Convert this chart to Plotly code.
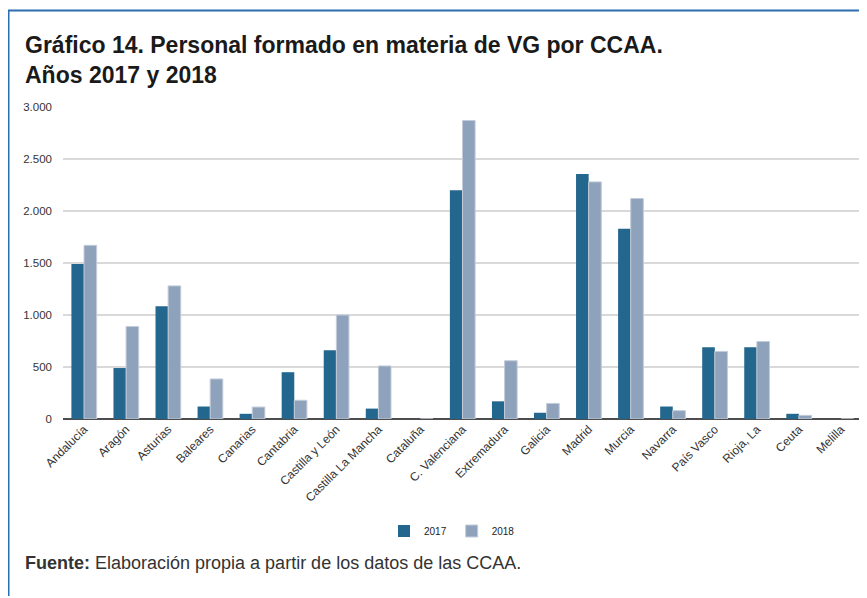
import plotly.graph_objects as go

categories = ["Andalucía", "Aragón", "Asturias", "Baleares", "Canarias", "Cantabria",
              "Castilla y León", "Castilla La Mancha", "Cataluña", "C. Valenciana",
              "Extremadura", "Galicia", "Madrid", "Murcia", "Navarra", "País Vasco",
              "Rioja, La", "Ceuta", "Melilla"]
values_2017 = [1490, 490, 1085, 120, 50, 450, 660, 100, 0, 2200, 170, 60, 2355, 1830, 120, 690, 690, 50, 0]
values_2018 = [1670, 890, 1280, 385, 115, 180, 1000, 510, 0, 2870, 560, 150, 2280, 2120, 80, 650, 745, 35, 0]
y_ticks = [0, 500, 1000, 1500, 2000, 2500, 3000]

# page body has an 8px margin, so the figure is drawn 8px in from the window edge
OFF = 8
W, H = 867 - OFF, 598 - OFF
L, R, T, B = 63 - OFF, 5, 107 - OFF, 179
PW, PH = W - L - R, H - T - B

def px(x):  # x in window pixels -> paper
    return (x - OFF - L) / PW

def py(y):  # y in window pixels -> paper
    return (H - B - (y - OFF)) / PH

FONT = "Liberation Sans, Arial, Helvetica, sans-serif"

fig = go.Figure()
fig.add_trace(go.Bar(x=categories, y=values_2017, name="2017",
                     marker=dict(color="#23668e", line=dict(width=0))))
fig.add_trace(go.Bar(x=categories, y=values_2018, name="2018",
                     marker=dict(color="#8ea2bc", line=dict(color="#c3ccd9", width=1))))

fig.update_layout(
    width=W, height=H,
    margin=dict(l=L, r=R, t=T, b=B),
    paper_bgcolor="white", plot_bgcolor="white",
    separators=",.",
    barmode="group", bargap=0.4, bargroupgap=0.0,
    font=dict(family=FONT, color="#333333"),
    showlegend=True,
    legend=dict(orientation="h", x=px(452), y=py(531), xanchor="center", yanchor="middle",
                font=dict(size=10, color="#222222"), itemwidth=30,
                bgcolor="rgba(0,0,0,0)"),
    xaxis=dict(tickangle=-45, tickfont=dict(size=12, color="#333333"),
               showgrid=False, showline=False, ticks=""),
    yaxis=dict(range=[0, 3000], tickvals=y_ticks, tickformat=",d",
               tickfont=dict(size=11.5, color="#333333"),
               showgrid=True, gridcolor="#d9d9d9", gridwidth=1.5,
               zeroline=True, zerolinecolor="#4d4d4d", zerolinewidth=1.5,
               showline=False, ticks="", ticklabelstandoff=10),
)

fig.add_annotation(text="<b>Gráfico 14. Personal formado en materia de VG por CCAA.</b>",
                   xref="paper", yref="paper", x=px(23), y=py(44.5), xanchor="left", yanchor="middle",
                   align="left", showarrow=False,
                   font=dict(family=FONT, size=23, color="#1a1a1a"))
fig.add_annotation(text="<b>Años 2017 y 2018</b>",
                   xref="paper", yref="paper", x=px(23), y=py(75.5), xanchor="left", yanchor="middle",
                   align="left", showarrow=False,
                   font=dict(family=FONT, size=23, color="#1a1a1a"))
fig.add_annotation(text="<b>Fuente:</b> Elaboración propia a partir de los datos de las CCAA.",
                   xref="paper", yref="paper", x=px(23), y=py(563), xanchor="left", yanchor="middle",
                   align="left", showarrow=False,
                   font=dict(family=FONT, size=18, color="#333333"))

# frame lines (top and left)
fig.add_shape(type="line", xref="paper", yref="paper", x0=px(8), x1=px(867), y0=py(10.5), y1=py(10.5),
              line=dict(color="#2b6fae", width=2))
fig.add_shape(type="line", xref="paper", yref="paper", x0=px(8.75), x1=px(8.75), y0=py(10), y1=py(596),
              line=dict(color="#2b6fae", width=1.5))

fig.write_html("out.html")
